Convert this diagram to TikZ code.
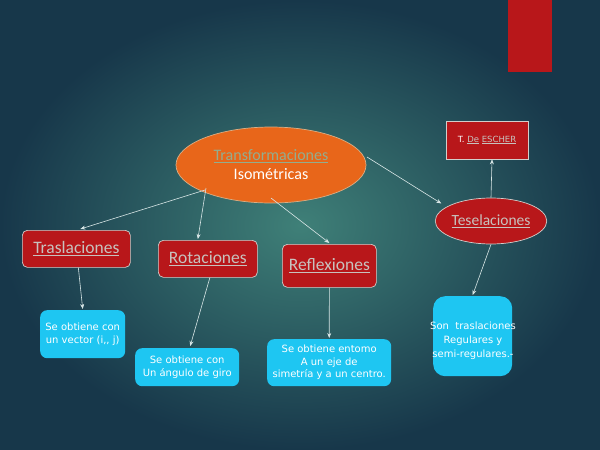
\documentclass[tikz,border=0pt]{standalone}
\usepackage{fontspec}
\setmainfont{Carlito}
\newfontfamily\smallfont{DejaVu Sans}
\usetikzlibrary{shapes.geometric,arrows.meta,calc}
\definecolor{bgin}{HTML}{3F8078}
\definecolor{bgout}{HTML}{17374A}
\definecolor{redbox}{HTML}{B8171A}
\definecolor{orangeel}{HTML}{E8661A}
\definecolor{cyanbox}{HTML}{1EC6F2}
\definecolor{linkgray}{HTML}{C8C2BE}
\definecolor{linkgreen}{HTML}{93AD8E}
\definecolor{edgecol}{HTML}{D8E6E6}
\tikzset{
  redrect/.style={draw=linkgray!80!white, line width=0.7pt, fill=redbox, rounded corners=5pt, anchor=north west, inner sep=0pt},
  cyanrect/.style={draw=none, fill=cyanbox, rounded corners=7pt, anchor=north west, inner sep=0pt, text=white, font=\smallfont\fontsize{10}{12.5}\selectfont, align=center},
  conn/.style={draw=edgecol, line width=0.6pt, -{Stealth[length=5pt,width=4pt]}},
  lbl/.style={text=linkgray, font=\fontsize{17.5}{20}\selectfont}
}
\begin{document}
\begin{tikzpicture}[x=1pt,y=-1pt]
\useasboundingbox (0,0) rectangle (600,450);
\shade[inner color=bgin, outer color=bgout] (0,0) rectangle (600,450);
\fill[redbox] (508,0) rectangle (552,72);
% main ellipse
\node[ellipse, draw=linkgray!70!orange, line width=0.7pt, fill=orangeel, minimum width=190pt, minimum height=76pt, align=center, font=\fontsize{16}{19}\selectfont] (main) at (271,165)
  {\textcolor{linkgreen}{\underline{Transformaciones}}\\ \textcolor{white}{Isométricas}};
% ESCHER
\node[draw=linkgray!80!white, line width=0.7pt, fill=redbox, minimum width=82pt, minimum height=38pt, inner sep=0pt, font=\smallfont\fontsize{8.5}{11}\selectfont] (escher) at (487,140)
  {\textcolor{white}{T.} \textcolor{linkgray}{\underline{De}} \textcolor{linkgray}{\underline{ESCHER}}};
% Teselaciones
\node[ellipse, draw=linkgray!80!white, line width=0.7pt, fill=redbox, minimum width=96pt, minimum height=46pt, inner sep=0pt, lbl, font=\fontsize{15.5}{18}\selectfont] (tese) at (491,221) {\underline{Teselaciones}};
% red boxes
\node[redrect, minimum width=108pt, minimum height=37pt, lbl] (tras) at (22,230) {\underline{Traslaciones}};
\node[redrect, minimum width=99pt, minimum height=37pt, lbl] (rota) at (158,240) {\underline{Rotaciones}};
\node[redrect, minimum width=94pt, minimum height=43pt, lbl] (refl) at (282,244) {\underline{Reflexiones}};
% cyan boxes
\node[cyanrect, minimum width=85pt, minimum height=48pt] (b1) at (40,310) {Se obtiene con\\ un vector (i,, j)};
\node[cyanrect, minimum width=104pt, minimum height=38pt] (b2) at (135,348) {Se obtiene con\\ Un ángulo de giro};
\node[cyanrect, minimum width=124pt, minimum height=47pt] (b3) at (267,339) {Se obtiene entomo\\ A un eje de\\ simetría y a un centro.};
\node[cyanrect, minimum width=79pt, minimum height=80pt, rounded corners=12pt] (b4) at (433,296) {};
\node[text=white, font=\smallfont\fontsize{10}{14}\selectfont, align=center, inner sep=0pt] (b4t) at (473,341) {Son\ \ traslaciones\\ Regulares y\\ semi-regulares.-};
% connectors
\coordinate (m1) at (205,190);
\coordinate (m2) at (206,188);
\coordinate (m3) at (271,198);
\coordinate (m4) at (367,157);
\draw[conn] (m1) -- ($(tras.north)+(4,-1)$);
\draw[conn] (m2) -- ($(rota.north)+(-10,-1)$);
\draw[conn] (m3) -- ($(refl.north)+(0,-1)$);
\draw[conn] (m4) -- ($(tese.north west)+(-10,-1)$);
\draw[conn] (tese.north) -- ($(escher.south)+(5,0)$);
\draw[conn] ($(tras.south)+(2,0)$) -- ($(b1.north)+(0,-1)$);
\draw[conn] ($(rota.south)+(2,0)$) -- ($(b2.north)+(3,-2)$);
\draw[conn] ($(refl.south)+(0,0)$) -- ($(b3.north)+(0,-1)$);
\draw[conn] ($(tese.south)+(0,0)$) -- ($(b4.north)+(0,-1)$);
\end{tikzpicture}
\end{document}
